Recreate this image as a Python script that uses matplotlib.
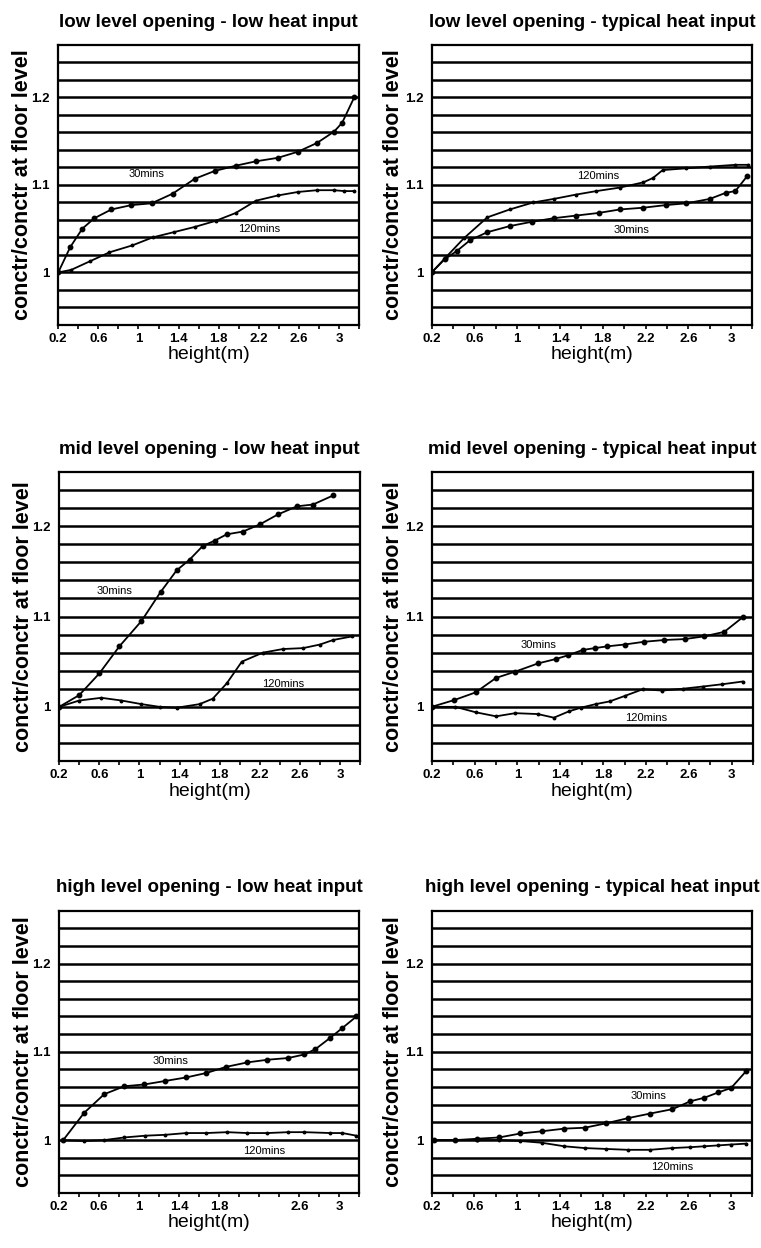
# concentration ratio profiles, six opening / heat input cases

import numpy as np
import matplotlib
matplotlib.use("Agg")
import matplotlib.pyplot as plt

plt.rcParams['font.family'] = ['Liberation Sans', 'DejaVu Sans']

titles = ["low level opening - low heat input",
          "low level opening - typical heat input",
          "mid level opening - low heat input",
          "mid level opening - typical heat input",
          "high level opening - low heat input",
          "high level opening - typical heat input"]

# low level / low heat
h30_ll = [0.2, 0.32, 0.44, 0.56, 0.73, 0.93, 1.13, 1.34, 1.56, 1.76, 1.97, 2.17, 2.39, 2.59, 2.78, 2.95, 3.03, 3.15]
c30_ll = [1.0, 1.029, 1.05, 1.062, 1.072, 1.077, 1.079, 1.09, 1.107, 1.116, 1.122, 1.127, 1.131, 1.138, 1.148, 1.161, 1.171, 1.2]
h120_ll = [0.2, 0.33, 0.52, 0.71, 0.94, 1.14, 1.35, 1.56, 1.77, 1.97, 2.17, 2.39, 2.59, 2.78, 2.95, 3.05, 3.15]
c120_ll = [1.0, 1.003, 1.013, 1.023, 1.031, 1.04, 1.046, 1.052, 1.059, 1.068, 1.082, 1.088, 1.092, 1.094, 1.094, 1.093, 1.093]

# low level / typical heat
h30_lt = [0.2, 0.32, 0.44, 0.56, 0.72, 0.93, 1.14, 1.34, 1.55, 1.76, 1.96, 2.18, 2.39, 2.58, 2.8, 2.95, 3.04, 3.15]
c30_lt = [1.0, 1.015, 1.025, 1.037, 1.046, 1.053, 1.058, 1.062, 1.065, 1.068, 1.072, 1.074, 1.077, 1.079, 1.084, 1.091, 1.093, 1.11]
h120_lt = [0.2, 0.33, 0.5, 0.72, 0.93, 1.15, 1.34, 1.55, 1.74, 1.96, 2.18, 2.27, 2.36, 2.58, 2.8, 3.04, 3.16]
c120_lt = [1.0, 1.017, 1.039, 1.063, 1.072, 1.08, 1.084, 1.089, 1.093, 1.097, 1.103, 1.108, 1.117, 1.119, 1.121, 1.123, 1.123]

# mid level / low heat
h30_ml = [0.2, 0.4, 0.6, 0.8, 1.02, 1.21, 1.37, 1.5, 1.63, 1.75, 1.87, 2.03, 2.2, 2.38, 2.57, 2.73, 2.93]
c30_ml = [1.0, 1.013, 1.037, 1.067, 1.095, 1.127, 1.151, 1.163, 1.178, 1.184, 1.191, 1.194, 1.202, 1.213, 1.222, 1.224, 1.234]
h120_ml = [0.2, 0.4, 0.62, 0.82, 1.02, 1.2, 1.37, 1.6, 1.73, 1.87, 2.02, 2.23, 2.43, 2.63, 2.8, 2.93, 3.12]
c120_ml = [1.0, 1.007, 1.01, 1.007, 1.003, 1.0, 0.999, 1.003, 1.009, 1.026, 1.05, 1.06, 1.064, 1.065, 1.069, 1.074, 1.078]

# mid level / typical heat
h30_mt = [0.2, 0.41, 0.61, 0.8, 0.98, 1.19, 1.36, 1.47, 1.61, 1.72, 1.84, 2.0, 2.18, 2.37, 2.56, 2.74, 2.93, 3.1]
c30_mt = [1.0, 1.0075, 1.016, 1.032, 1.039, 1.048, 1.053, 1.057, 1.063, 1.065, 1.067, 1.069, 1.072, 1.074, 1.075, 1.078, 1.083, 1.099]
h120_mt = [0.2, 0.42, 0.61, 0.8, 0.98, 1.19, 1.34, 1.48, 1.59, 1.73, 1.86, 2.0, 2.17, 2.35, 2.54, 2.73, 2.91, 3.1]
c120_mt = [1.0, 1.0, 0.994, 0.9895, 0.993, 0.992, 0.988, 0.995, 0.999, 1.003, 1.006, 1.012, 1.0195, 1.018, 1.02, 1.0225, 1.025, 1.028]

# high level / low heat
h30_hl = [0.24, 0.45, 0.65, 0.85, 1.05, 1.26, 1.47, 1.67, 1.87, 2.08, 2.28, 2.49, 2.65, 2.76, 2.91, 3.03, 3.17]
c30_hl = [1.0, 1.031, 1.052, 1.061, 1.063, 1.067, 1.071, 1.076, 1.083, 1.088, 1.091, 1.093, 1.097, 1.103, 1.116, 1.127, 1.14]
h120_hl = [0.24, 0.45, 0.65, 0.85, 1.06, 1.26, 1.47, 1.67, 1.88, 2.08, 2.28, 2.49, 2.65, 2.91, 3.03, 3.17]
c120_hl = [1.0, 0.999, 1.0, 1.003, 1.005, 1.006, 1.008, 1.008, 1.009, 1.008, 1.008, 1.009, 1.009, 1.008, 1.008, 1.005]

# high level / typical heat
h30_ht = [0.22, 0.42, 0.62, 0.83, 1.03, 1.23, 1.44, 1.63, 1.83, 2.04, 2.24, 2.45, 2.62, 2.75, 2.88, 3.0, 3.14]
c30_ht = [1.0, 1.0, 1.0015, 1.003, 1.0075, 1.01, 1.013, 1.014, 1.019, 1.025, 1.03, 1.035, 1.044, 1.048, 1.054, 1.059, 1.078]
h120_ht = [0.22, 0.42, 0.62, 0.83, 1.03, 1.23, 1.44, 1.63, 1.83, 2.04, 2.24, 2.45, 2.62, 2.75, 2.88, 3.0, 3.14]
c120_ht = [1.0, 1.0, 1.0, 1.0, 0.999, 0.997, 0.993, 0.991, 0.99, 0.989, 0.989, 0.991, 0.992, 0.993, 0.994, 0.995, 0.996]

series = [(h30_ll, c30_ll, h120_ll, c120_ll),
          (h30_lt, c30_lt, h120_lt, c120_lt),
          (h30_ml, c30_ml, h120_ml, c120_ml),
          (h30_mt, c30_mt, h120_mt, c120_mt),
          (h30_hl, c30_hl, h120_hl, c120_hl),
          (h30_ht, c30_ht, h120_ht, c120_ht)]

# where the "30mins" / "120mins" notes sit (data coords)
lab30 = [(1.08, 1.112), (2.07, 1.049), (0.75, 1.128), (1.2, 1.069), (1.31, 1.09), (2.23, 1.05)]
lab120 = [(2.2, 1.05), (1.76, 1.11), (2.43, 1.025), (2.2, 0.988), (2.25, 0.988), (2.45, 0.97)]

xlabels = ["0.2", "0.6", "1", "1.4", "1.8", "2.2", "2.6", "3"]
xlab_pos = [0.2, 0.6, 1.0, 1.4, 1.8, 2.2, 2.6, 3.0]

# axes boxes in figure fraction [left, bottom, width, height]
boxes = [[0.0765, 0.7396, 0.3955, 0.2244], [0.5673, 0.7396, 0.4215, 0.2244],
         [0.0778, 0.3902, 0.3955, 0.2316], [0.5673, 0.3902, 0.4225, 0.2316],
         [0.0778, 0.0440, 0.3945, 0.2264], [0.5673, 0.0440, 0.4215, 0.2264]]

fig = plt.figure(figsize=(7.61, 12.48), dpi=100)

for i in range(6):
    ax = fig.add_axes(boxes[i])
    h30, c30, h120, c120 = series[i]

    ax.set_xlim(0.2, 3.2)
    ax.set_ylim(0.94, 1.26)

    # heavy horizontal rules every 0.02
    for yv in np.arange(0.96, 1.245, 0.02):
        ax.axhline(yv, color='black', lw=1.8, zorder=1)

    ax.plot(h30, c30, color='black', lw=1.3, marker='o', ms=3.2, zorder=3)
    ax.plot(h120, c120, color='black', lw=1.3, marker='o', ms=1.8, zorder=3)

    ax.text(lab30[i][0], lab30[i][1], "30mins", fontsize=8, ha='center', va='center', zorder=4)
    ax.text(lab120[i][0], lab120[i][1], "120mins", fontsize=8, ha='center', va='center', zorder=4)

    # x ticks every 0.2, labels every 0.4
    ax.set_xticks(np.arange(0.2, 3.21, 0.2), minor=True)
    if i == 4:
        # this panel in the original has no 2.2 label
        ax.set_xticks([p for p in xlab_pos if p != 2.2])
        ax.set_xticklabels([l for l in xlabels if l != "2.2"])
    else:
        ax.set_xticks(xlab_pos)
        ax.set_xticklabels(xlabels)
    ax.tick_params(axis='x', which='both', direction='out', length=3, width=1.2, pad=3,
                   labelsize=9.5)
    for lb in ax.get_xticklabels():
        lb.set_fontweight('bold')

    ax.set_yticks([1.0, 1.1, 1.2])
    ax.set_yticklabels(["1", "1.1", "1.2"])
    ax.tick_params(axis='y', length=0, pad=6, labelsize=9.5)
    for lb in ax.get_yticklabels():
        lb.set_fontweight('bold')

    for sp in ax.spines.values():
        sp.set_linewidth(1.6)
        sp.set_color('black')

    ax.set_title(titles[i], fontsize=13.5, fontweight='bold', pad=13)
    ax.set_xlabel("height(m)", fontsize=14)
    ax.xaxis.set_label_coords(0.5, -0.075)
    ax.set_ylabel("conctr/conctr at floor level", fontsize=15.5, fontweight='bold')
    ax.yaxis.set_label_coords(-0.085, 0.5)

fig.savefig("out.png", dpi=100)
